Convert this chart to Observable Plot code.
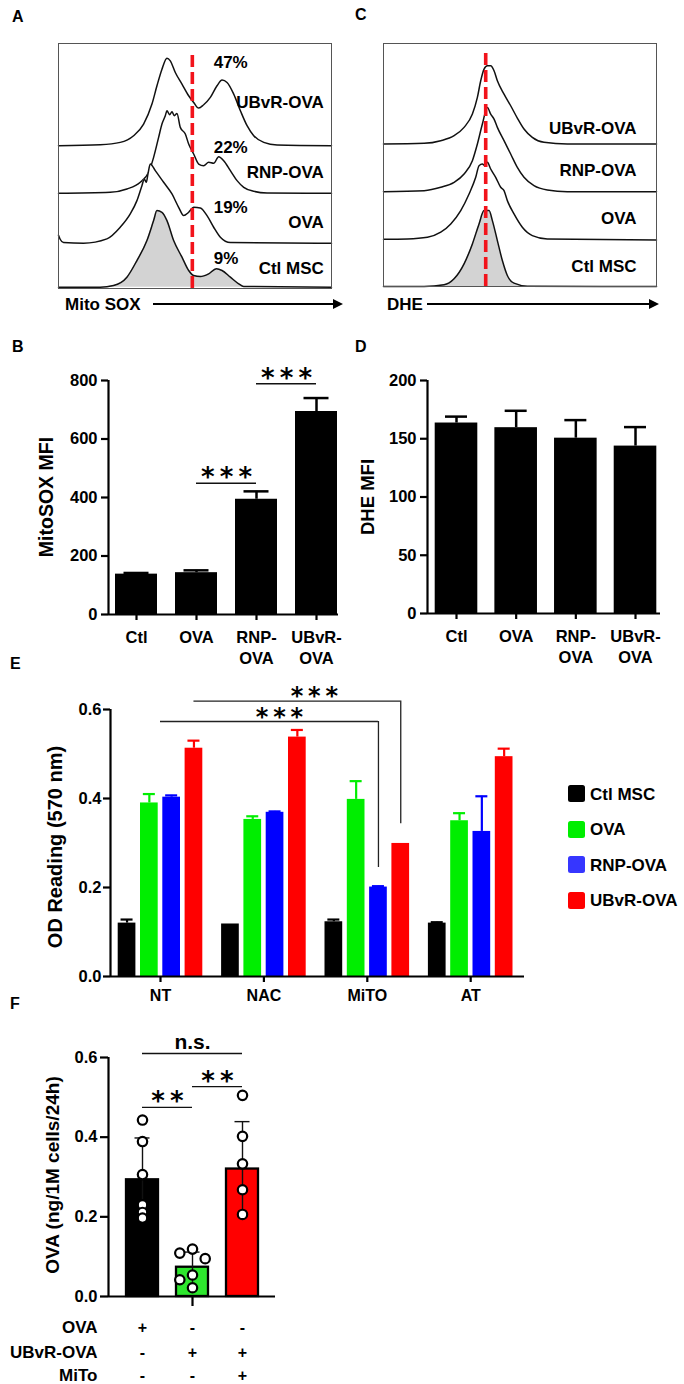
<!DOCTYPE html>
<html><head><meta charset="utf-8">
<script src="https://cdn.jsdelivr.net/npm/d3@7"></script>
<script src="https://cdn.jsdelivr.net/npm/@observablehq/plot@0.6"></script>
<style>
body{margin:0;background:#fff;}
#fig{position:relative;width:684px;height:1384px;background:#fff;font-family:"Liberation Sans",Arial,sans-serif;font-weight:bold;color:#000;overflow:hidden;}
.t{position:absolute;white-space:nowrap;font-weight:bold;line-height:1;}
</style></head><body><div id="fig"></div>
<script>
// ================= DATA =================
// Panel A: MitoSOX histograms (channel, count)
const samples = ["UBvR-OVA", "RNP-OVA", "OVA", "Ctl MSC"];
const mitoPct = ["47%", "22%", "19%", "9%"];
const mitoUbvrCh = [0,125,185,225,255,280,295,310,325,335,350,370,390,405,420,435,455,475,490,505,525,545,565,585,615,655,818];
const mitoUbvrN  = [0,3,10,30,65,125,180,230,263,255,220,185,150,130,113,123,145,180,197,190,155,105,60,30,10,2,0];
const mitoRnpCh  = [0,155,205,245,270,285,300,310,320,325,333,340,347,355,365,380,390,405,420,435,450,465,480,495,515,535,555,585,625,818];
const mitoRnpN   = [0,3,13,33,63,108,168,208,233,248,236,245,233,240,198,178,148,118,88,83,93,90,110,98,68,38,18,6,1,0];
const mitoOvaCh  = [0,5,15,75,145,185,215,235,250,257,263,268,275,290,315,340,360,375,390,405,425,445,465,485,515,818];
const mitoOvaN   = [24,12,2,0,13,48,88,128,173,193,183,208,238,218,183,148,108,83,93,108,106,83,48,18,2,0];
const mitoCtlCh  = [0,125,165,205,235,265,285,295,310,325,345,370,390,405,425,450,473,490,515,540,555,818];
const mitoCtlN   = [0,0,5,30,80,140,200,230,225,200,140,90,50,35,32,40,55,50,30,10,2,0];
const mitoGate = 401;
// Panel C: DHE histograms
const dheUbvrCh = [0,122,172,212,242,267,282,292,302,312,322,332,342,362,382,402,422,447,482,552,820];
const dheUbvrN  = [0,2,10,25,50,90,140,190,225,235,235,220,190,150,115,78,45,20,5,0,0];
const dheRnpCh  = [0,122,172,212,242,267,282,297,312,322,332,342,362,382,402,422,452,492,552,820];
const dheRnpN   = [0,3,13,28,53,93,143,203,253,233,218,193,153,113,73,43,18,5,0,0];
const dheOvaCh  = [0,72,132,172,202,232,257,277,287,297,304,312,322,337,352,362,372,392,417,447,492,820];
const dheOvaN   = [2,3,8,23,48,88,138,188,223,228,223,233,213,188,158,148,118,78,38,13,3,0];
const dheCtlCh  = [0,122,182,212,242,267,287,302,317,327,342,357,372,392,432,820];
const dheCtlN   = [0,0,5,23,68,128,188,228,228,198,138,78,33,10,1,0];
const dheGate = 307;
// Panel B
const bCats = ["Ctl", "OVA", "RNP-\nOVA", "UBvR-\nOVA"];
const mitoMFI = [138, 143, 394, 694];
const mitoSEM = [4, 8, 27, 46];
const bTicks = [0, 200, 400, 600, 800];
const bSig = [{a: 1, b: 2, label: "***"}, {a: 2, b: 3, label: "***"}];
// Panel D
const dheMFI = [163.5, 159.5, 150.5, 143.7];
const dheSEM = [5.5, 14.5, 15.5, 16.3];
const dTicks = [0, 50, 100, 150, 200];
// Panel E
const eGroups = ["NT", "NAC", "MiTO", "AT"];
const eSeries = ["Ctl MSC", "OVA", "RNP-OVA", "UBvR-OVA"];
const eCtl  = [0.120, 0.118, 0.123, 0.120];
const eOva  = [0.390, 0.353, 0.398, 0.350];
const eRnp  = [0.403, 0.369, 0.201, 0.326];
const eUbvr = [0.513, 0.538, 0.299, 0.494];
const eCtlErr  = [0.008, 0.000, 0.005, 0.002];
const eOvaErr  = [0.020, 0.007, 0.041, 0.017];
const eRnpErr  = [0.004, 0.002, 0.002, 0.079];
const eUbvrErr = [0.017, 0.016, 0.001, 0.018];
const eTicks = [0, 0.2, 0.4, 0.6];
const eSig = [
  {g1: "NT", s1: null, g2: "MiTO", s2: "RNP-OVA", label: "***"},
  {g1: "NT", s1: "UBvR-OVA", g2: "MiTO", s2: "UBvR-OVA", label: "***"}
];
// Panel F
const fGroups = ["OVA", "UBvR-OVA", "UBvR-OVA+MiTo"];
const fOvaPts  = [0.443, 0.389, 0.306, 0.230, 0.211, 0.197];
const fUbvrPts = [0.119, 0.109, 0.095, 0.054, 0.042, 0.022];
const fMitoPts = [0.505, 0.402, 0.333, 0.268, 0.206];
const fMean = [0.293, 0.0735, 0.320];
const fSD   = [0.105, 0.038, 0.119];
const fTicks = [0, 0.2, 0.4, 0.6];
const fSig = [{a: 0, b: 2, label: "n.s."}, {a: 0, b: 1, label: "**"}, {a: 1, b: 2, label: "**"}];
const fRowNames = ["OVA", "UBvR-OVA", "MiTo"];
const fRowSigns = [["+", "-", "-"], ["-", "+", "+"], ["-", "-", "+"]];

// ================= LAYOUT / STYLE =================
const FONT = '"Liberation Sans", Arial, sans-serif';
const STAR_FONT = '"DejaVu Sans", sans-serif';
const fig = document.getElementById("fig");
const baseStyle = {fontFamily: FONT, fontSize: "16px", fontWeight: "bold", overflow: "visible", background: "transparent", color: "black"};
function place(node, left, top) {
  node.style.position = "absolute"; node.style.left = left + "px"; node.style.top = top + "px";
  fig.appendChild(node); return node;
}
function label(txt, x, cy, size, extra = "") {
  const d = document.createElement("div"); d.className = "t"; d.textContent = txt;
  d.style.cssText += `left:${x}px;top:${cy}px;font-size:${size}px;transform:translateY(-50%);${extra}`;
  fig.appendChild(d); return d;
}
function rotLabel(txt, cx, cy, size) {
  const d = document.createElement("div"); d.className = "t"; d.textContent = txt;
  d.style.cssText += `left:${cx}px;top:${cy}px;font-size:${size}px;transform:translate(-50%,-50%) rotate(-90deg);`;
  fig.appendChild(d); return d;
}
function arrow(x1, x2, y) {
  const l = document.createElement("div");
  l.style.cssText = `position:absolute;left:${x1}px;top:${y - 0.75}px;width:${x2 - x1 - 9}px;height:1.5px;background:#000;`;
  fig.appendChild(l);
  const h = document.createElement("div");
  h.style.cssText = `position:absolute;left:${x2 - 10}px;top:${y - 5}px;width:0;height:0;border-top:5px solid transparent;border-bottom:5px solid transparent;border-left:10px solid #000;`;
  fig.appendChild(h);
}
const stars = s => s.split("").join("\u2009");

// ---------- Histogram panels ----------
function histPanel({traces, offsets, yTop, xMax, gate, gateTop, nameX, nameLift, pct, pctX, pctLift, left, top, width, height, mL, mR, mT, mB}) {
  const marks = [];
  traces.forEach((t, k) => {
    const off = offsets[k];
    const pts = t.ch.map((c, i) => ({ch: c, base: off, top: off + t.n[i]}));
    marks.push(Plot.area(pts, {x1: "ch", y1: "base", y2: "top", fill: k === traces.length - 1 ? "#d3d3d3" : "white", curve: "monotone-x"}));
    marks.push(Plot.line(pts, {x: "ch", y: "top", stroke: "#111", strokeWidth: 1.5, curve: "monotone-x"}));
  });
  marks.push(Plot.ruleX([gate], {y1: 0, y2: gateTop, stroke: "#f2131b", strokeWidth: 3.6, strokeDasharray: "12,5"}));
  marks.push(Plot.frame({stroke: "#555", strokeWidth: 1}));
  const names = samples.map((s, k) => ({s, y: offsets[k] + nameLift[k]}));
  marks.push(Plot.text(names, {x: () => nameX, y: "y", text: "s", textAnchor: "end", lineAnchor: "middle", fontSize: 17}));
  if (pct) {
    const p = pct.map((s, k) => ({s, y: offsets[k] + pctLift[k]}));
    marks.push(Plot.text(p, {x: () => pctX, y: "y", text: "s", textAnchor: "start", lineAnchor: "middle", fontSize: 17}));
  }
  const svg = Plot.plot({width, height, marginLeft: mL, marginRight: mR, marginTop: mT, marginBottom: mB,
    x: {domain: [0, xMax], axis: null}, y: {domain: [0, yTop], axis: null}, style: baseStyle, marks});
  place(svg, left, top);
}

histPanel({
  traces: [{ch: mitoUbvrCh, n: mitoUbvrN}, {ch: mitoRnpCh, n: mitoRnpN}, {ch: mitoOvaCh, n: mitoOvaN}, {ch: mitoCtlCh, n: mitoCtlN}],
  offsets: [429, 286, 136, 4], yTop: 736, xMax: 818, gate: mitoGate, gateTop: 714,
  nameX: 795, nameLift: [130, 61, 63, 57], pct: mitoPct, pctX: 465, pctLift: [250, 138, 106, 85],
  left: 0, top: 0, width: 342, height: 300, mL: 58, mR: 11, mT: 43, mB: 12
});
histPanel({
  traces: [{ch: dheUbvrCh, n: dheUbvrN}, {ch: dheRnpCh, n: dheRnpN}, {ch: dheOvaCh, n: dheOvaN}, {ch: dheCtlCh, n: dheCtlN}],
  offsets: [428, 285, 140, 0], yTop: 730, xMax: 820, gate: dheGate, gateTop: 708,
  nameX: 760, nameLift: [48, 63, 63, 61], pct: null,
  left: 342, top: 0, width: 342, height: 300, mL: 41, mR: 28, mT: 43, mB: 14
});
label("Mito SOX", 65, 304, 17);
arrow(153, 343, 304);
label("DHE", 387, 304, 17);
arrow(427, 659, 304);

// ---------- Bar panels B & D ----------
function barPanel({cats, values, errs, ticks, yMax, left, top, width, height, axisX, firstC, step, endX, mT, mB, halfWpx, capPx, sig, sigLevel}) {
  const n = values.length;
  const xDom = [-(firstC - axisX) / step, (n - 1) + (endX - (firstC + step * (n - 1))) / step];
  const hw = halfWpx / step, cw = capPx / step;
  const rows = values.map((v, i) => ({i, v, e: errs[i]}));
  const marks = [
    Plot.rect(rows, {x1: d => d.i - hw, x2: d => d.i + hw, y1: 0, y2: d => d.v, fill: "black"}),
    Plot.ruleX(rows, {x: d => d.i, y1: d => d.v, y2: d => d.v + d.e, stroke: "black", strokeWidth: 2.5}),
    Plot.ruleY(rows, {x1: d => d.i - cw, x2: d => d.i + cw, y: d => d.v + d.e, stroke: "black", strokeWidth: 2.5}),
    Plot.ruleY([0], {strokeWidth: 2.2}),
    Plot.ruleX([xDom[0]], {strokeWidth: 2.2}),
    Plot.axisY({ticks, tickSize: 7, tickPadding: 4, strokeWidth: 2.2, tickFormat: d3.format("d"), label: null, fontSize: 16.5}),
    Plot.axisX({ticks: d3.range(n), tickFormat: i => cats[i], tickSize: 6, tickPadding: 7, strokeWidth: 2.2, label: null, lineHeight: 1.3, fontSize: 16.5})
  ];
  if (sig) {
    const s = sig.map((d, k) => ({...d, y: sigLevel[k]}));
    marks.push(Plot.ruleY(s, {x1: d => d.a, x2: d => d.b, y: "y", stroke: "#111", strokeWidth: 1.5}));
    marks.push(Plot.text(s, {x: d => (d.a + d.b) / 2, y: "y", text: d => stars(d.label), fontFamily: STAR_FONT, fontSize: 26, lineAnchor: "bottom", dy: 3}));
  }
  const svg = Plot.plot({width, height, marginLeft: axisX - left, marginRight: left + width - endX, marginTop: mT, marginBottom: mB,
    x: {domain: xDom}, y: {domain: [0, yMax]}, style: baseStyle, marks});
  place(svg, left, top);
}
barPanel({cats: bCats, values: mitoMFI, errs: mitoSEM, ticks: bTicks, yMax: 800, left: 0, top: 340, width: 342, height: 330,
  axisX: 108, firstC: 136, step: 60, endX: 338, mT: 40, mB: 56, halfWpx: 21, capPx: 12.5, sig: bSig, sigLevel: [449, 789]});
barPanel({cats: bCats, values: dheMFI, errs: dheSEM, ticks: dTicks, yMax: 200, left: 342, top: 340, width: 342, height: 330,
  axisX: 427, firstC: 456, step: 59.67, endX: 660, mT: 40, mB: 57, halfWpx: 21.3, capPx: 11});
rotLabel("MitoSOX MFI", 47, 497, 19.5);
rotLabel("DHE MFI", 368, 497, 18.5);

// ---------- Panel E ----------
{
  const colors = ["#000000", "#00ee00", "#0000ff", "#ff0000"];
  const vals = [eCtl, eOva, eRnp, eUbvr], errs = [eCtlErr, eOvaErr, eRnpErr, eUbvrErr];
  const axisX = 110, firstC = 160, step = 103.4, endX = 524, left = 0, top = 660, width = 540, height = 350;
  const xDom = [-(firstC - axisX) / step, 3 + (endX - (firstC + 3 * step)) / step];
  const sStep = 22.3 / step, hw = 8.85 / step, cw = 6 / step;
  const pos = (g, s) => eGroups.indexOf(g) + (s == null ? 0 : (eSeries.indexOf(s) - 1.5) * sStep);
  const rows = [];
  eGroups.forEach((g, gi) => eSeries.forEach((s, si) => rows.push({g, s, si, x: pos(g, s), v: vals[si][gi], e: errs[si][gi]})));
  const valOf = (g, s) => vals[eSeries.indexOf(s)][eGroups.indexOf(g)];
  const sig = eSig.map((d, k) => ({...d, x1: pos(d.g1, d.s1), x2: pos(d.g2, d.s2), y: [0.573, 0.619][k], yEnd: valOf(d.g2, d.s2) + 0.044, dx: [10, 17][k]}));
  const er = rows.filter(d => d.e > 0.0015);
  const marks = [
      Plot.rect(rows, {x1: d => d.x - hw, x2: d => d.x + hw, y1: 0, y2: d => d.v, fill: d => colors[d.si]}),
      Plot.ruleX(er, {x: "x", y1: d => d.v, y2: d => d.v + d.e, stroke: d => colors[d.si], strokeWidth: 2.2}),
      Plot.ruleY(er, {x1: d => d.x - cw, x2: d => d.x + cw, y: d => d.v + d.e, stroke: d => colors[d.si], strokeWidth: 2.2}),
      Plot.ruleY([0], {strokeWidth: 2.2}),
      Plot.ruleX([xDom[0]], {strokeWidth: 2.2}),
      Plot.axisY({ticks: eTicks, tickSize: 7, tickPadding: 2, strokeWidth: 2.2, tickFormat: d3.format(".1f"), label: null, fontSize: 16.5}),
      Plot.axisX({ticks: d3.range(4), tickFormat: i => eGroups[i], tickSize: 6, tickPadding: 7, strokeWidth: 2.2, label: null, fontSize: 16}),
      Plot.ruleY(sig, {x1: "x1", x2: "x2", y: "y", stroke: "#222", strokeWidth: 1.3}),
      Plot.ruleX(sig, {x: "x2", y1: "y", y2: "yEnd", stroke: "#222", strokeWidth: 1.3})
  ];
  // one text mark per bracket so each can carry its own horizontal offset
  sig.forEach(d => marks.push(Plot.text([d], {x: d => (d.x1 + d.x2) / 2, y: "y", text: d => stars(d.label), fontFamily: STAR_FONT, fontSize: 24, lineAnchor: "bottom", dy: 3, dx: d.dx})));
  const svg = Plot.plot({width, height, marginLeft: axisX - left, marginRight: left + width - endX, marginTop: 49, marginBottom: 34,
    x: {domain: xDom}, y: {domain: [0, 0.6]}, style: baseStyle, marks});
  place(svg, left, top);
  rotLabel("OD Reading (570 nm)", 55, 847, 20);
  // legend
  const legColors = ["#000000", "#00ee00", "#3636ff", "#ff0000"];
  eSeries.forEach((s, k) => {
    const y = 785 + k * 35.5;
    const sq = document.createElement("div");
    sq.style.cssText = `position:absolute;left:568px;top:${y}px;width:17px;height:17px;border-radius:2.5px;background:${legColors[k]};`;
    fig.appendChild(sq);
    label(s, 590, y + 8.5, 17);
  });
}

// ---------- Panel F ----------
{
  const colors = ["#000000", "#2ee62e", "#ff0000"];
  const axisX = 108, firstC = 142, step = 50, endX = 275, left = 0, top = 1030, width = 342, height = 354;
  const xDom = [-(firstC - axisX) / step, 2 + (endX - (firstC + 2 * step)) / step];
  const pxY = (1296 - 1057) / 0.6;
  function dodge(vals, minD) {
    const placed = []; let side = -1; const pitch = 12.7;
    return vals.map(v => {
      const y = v * pxY;
      const ok = dx => placed.every(p => Math.hypot(p.dx - dx, p.y - y) >= minD);
      let dx = 0;
      if (!ok(0)) {
        for (let k = 1; k < 5; k++) {
          if (ok(side * k * pitch)) { dx = side * k * pitch; break; }
          if (ok(-side * k * pitch)) { dx = -side * k * pitch; break; }
        }
        side = -side;
      }
      placed.push({dx, y}); return dx;
    });
  }
  const pts = [];
  [fOvaPts, fUbvrPts, fMitoPts].forEach((arr, gi) => {
    const dxs = dodge(arr, gi === 1 ? 10 : 5);
    arr.forEach((v, j) => pts.push({x: gi + dxs[j] / step, v}));
  });
  const rows = fMean.map((m, i) => ({i, m, sd: fSD[i]}));
  const hw = 16 / step, cw = 7.5 / step;
  const sig = fSig.map((d, k) => ({...d, y: [0.610, 0.475, 0.527][k]}));
  const marks = [
    Plot.rect(rows, {x1: d => d.i - hw, x2: d => d.i + hw, y1: 0, y2: "m", fill: d => colors[d.i], stroke: "black", strokeWidth: 2.3}),
    Plot.ruleX(rows, {x: "i", y1: d => d.m - d.sd, y2: d => d.m + d.sd, stroke: "#111", strokeWidth: 1.4}),
    Plot.ruleY(rows, {x1: d => d.i - cw, x2: d => d.i + cw, y: d => d.m + d.sd, stroke: "#111", strokeWidth: 1.4}),
    Plot.dot(pts, {x: "x", y: "v", r: 4.7, fill: "white", stroke: "black", strokeWidth: 2.2}),
    Plot.ruleY([0], {strokeWidth: 2.2}),
    Plot.ruleX([xDom[0]], {strokeWidth: 2.2}),
    Plot.axisY({ticks: fTicks, tickSize: 8, tickPadding: 3, strokeWidth: 2.2, tickFormat: d3.format(".1f"), label: null, fontSize: 16.5}),
    Plot.axisX({ticks: [1], tickSize: 10, tickFormat: () => "", strokeWidth: 2.2, label: null}),
    Plot.ruleY(sig, {x1: "a", x2: "b", y: "y", stroke: "#111", strokeWidth: 1.3}),
    Plot.text(sig.filter(d => d.label === "n.s."), {x: d => (d.a + d.b) / 2, y: "y", text: "label", fontSize: 21, lineAnchor: "bottom", dy: -5}),
    Plot.text(sig.filter(d => d.label !== "n.s."), {x: d => (d.a + d.b) / 2, y: "y", text: d => stars(d.label), fontFamily: STAR_FONT, fontSize: 26, lineAnchor: "bottom", dy: 3})
  ];
  const rowDy = [31, 56, 79];
  fRowNames.forEach((nm, r) => {
    marks.push(Plot.text([nm], {frameAnchor: "bottom-left", dx: -11, dy: rowDy[r], textAnchor: "end", lineAnchor: "middle", fontSize: 17}));
    marks.push(Plot.text(d3.range(3), {x: d => d, frameAnchor: "bottom", text: d => fRowSigns[r][d], dy: rowDy[r], lineAnchor: "middle", fontSize: 16}));
  });
  const svg = Plot.plot({width, height, marginLeft: axisX - left, marginRight: left + width - endX, marginTop: 27, marginBottom: 88,
    x: {domain: xDom}, y: {domain: [0, 0.6]}, style: baseStyle, marks});
  place(svg, left, top);
  rotLabel("OVA (ng/1M cells/24h)", 52, 1175, 19);
}

// ---------- Panel letters ----------
label("A", 12, 17, 16);
label("C", 355, 15, 16);
label("B", 12, 347, 16);
label("D", 355, 347, 16);
label("E", 10, 664, 16);
label("F", 10, 1004, 16);
</script></body></html>
